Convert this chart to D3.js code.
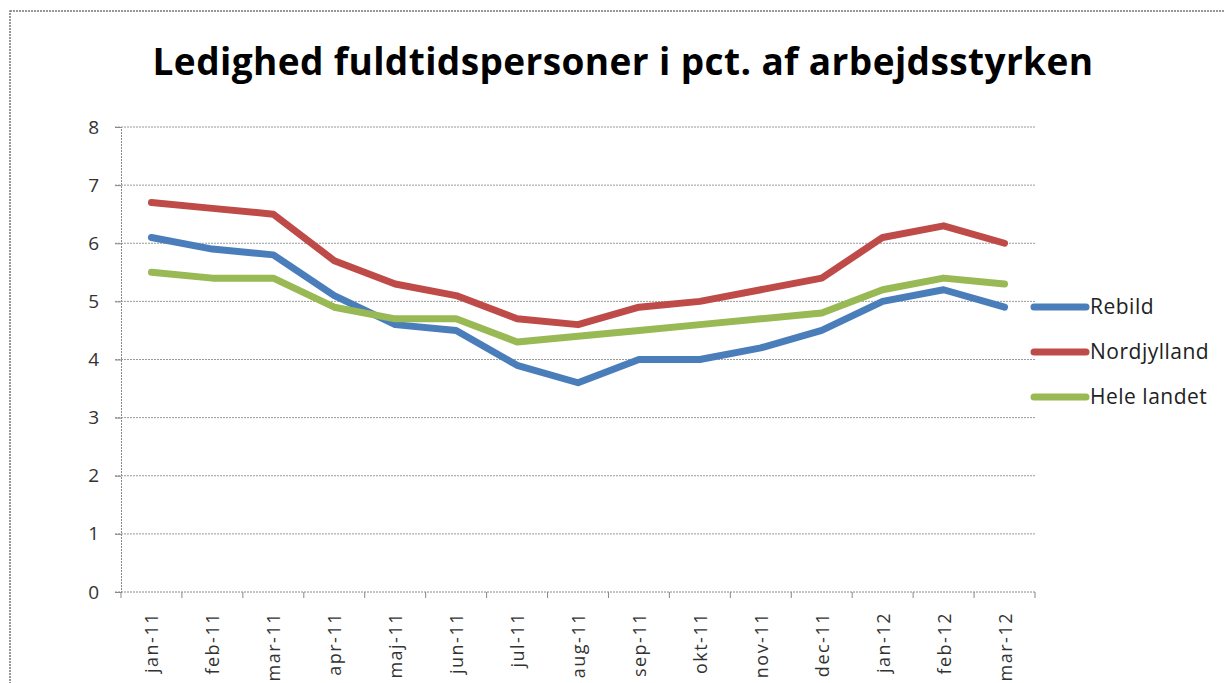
<!DOCTYPE html>
<html>
<head>
<meta charset="utf-8">
<script src="https://cdn.jsdelivr.net/npm/d3@7"></script>
<style>
  body { margin: 0; background: #fff; }
  svg text { font-family: "Open Sans", "Liberation Sans", sans-serif; }
</style>
</head>
<body>
<svg width="1225" height="683"></svg>
<script>
var months = ["jan-11", "feb-11", "mar-11", "apr-11", "maj-11", "jun-11", "jul-11", "aug-11",
              "sep-11", "okt-11", "nov-11", "dec-11", "jan-12", "feb-12", "mar-12"];
var rebild = [6.1, 5.9, 5.8, 5.1, 4.6, 4.5, 3.9, 3.6, 4.0, 4.0, 4.2, 4.5, 5.0, 5.2, 4.9];
var nordjylland = [6.7, 6.6, 6.5, 5.7, 5.3, 5.1, 4.7, 4.6, 4.9, 5.0, 5.2, 5.4, 6.1, 6.3, 6.0];
var heleLandet = [5.5, 5.4, 5.4, 4.9, 4.7, 4.7, 4.3, 4.4, 4.5, 4.6, 4.7, 4.8, 5.2, 5.4, 5.3];
var seriesNames = ["Rebild", "Nordjylland", "Hele landet"];
var yTicks = [0, 1, 2, 3, 4, 5, 6, 7, 8];

var colors = ["#4a7ebb", "#be4b48", "#98b954"];

// plot area
var plotLeft = 121, plotRight = 1035, plotTop = 127, plotBottom = 592;

var svg = d3.select("svg");

// cornice tratteggiata esterna
svg.append("rect")
   .attr("x", 10).attr("y", 11)
   .attr("width", 1240).attr("height", 700)
   .attr("fill", "none")
   .attr("stroke", "#777")
   .attr("stroke-width", 1.5)
   .attr("stroke-dasharray", "2,1");

svg.append("text")
   .attr("x", 623)
   .attr("y", 75)
   .attr("text-anchor", "middle")
   .attr("font-size", 37)
   .attr("font-weight", "bold")
   .attr("letter-spacing", 0.4)
   .attr("fill", "#000")
   .text("Ledighed fuldtidspersoner i pct. af arbejdsstyrken");

var x = d3.scaleBand().domain(months).range([plotLeft, plotRight]);
var y = d3.scaleLinear().domain([0, 8]).range([plotBottom, plotTop]);

// griglia
svg.append("g")
   .selectAll("line")
   .data(yTicks.filter(function(d){ return d > 0; }))
   .enter().append("line")
   .attr("x1", plotLeft - 6).attr("x2", plotRight)
   .attr("y1", function(d){ return y(d); })
   .attr("y2", function(d){ return y(d); })
   .attr("stroke", "#999")
   .attr("stroke-width", 1)
   .attr("stroke-dasharray", "2,1");

// asse y
var yAxis = svg.append("g")
   .attr("transform", "translate(" + plotLeft + ",0)")
   .call(d3.axisLeft(y).tickValues(yTicks).tickSize(6).tickPadding(16));
yAxis.select(".domain").attr("stroke", "#888").attr("stroke-dasharray", "2,1");
yAxis.selectAll(".tick line").attr("stroke", "#888");
yAxis.selectAll("text").attr("font-size", 19).attr("fill", "#333")
     .style("font-family", "'Open Sans', sans-serif");

// asse x: tacche ai confini delle categorie
var xAxis = svg.append("g")
   .attr("transform", "translate(0," + plotBottom + ")");
xAxis.append("line")
   .attr("x1", plotLeft - 6).attr("x2", plotRight)
   .attr("stroke", "#888").attr("stroke-dasharray", "2,1");
xAxis.selectAll(".xt")
   .data(months.concat(["end"]))
   .enter().append("line")
   .attr("class", "xt")
   .attr("x1", function(d, i){ return plotLeft + i * x.bandwidth(); })
   .attr("x2", function(d, i){ return plotLeft + i * x.bandwidth(); })
   .attr("y1", 0).attr("y2", 6)
   .attr("stroke", "#888");
xAxis.selectAll(".xl")
   .data(months)
   .enter().append("text")
   .attr("class", "xl")
   .attr("transform", function(d){
       return "translate(" + (x(d) + x.bandwidth() / 2 + 7) + ",20) rotate(-90)";
   })
   .attr("text-anchor", "end")
   .attr("font-size", 18)
   .attr("letter-spacing", 1.5)
   .attr("fill", "#333")
   .text(function(d){ return d; });

// linee
var allSeries = [rebild, nordjylland, heleLandet];
var line = d3.line()
   .x(function(d, i){ return x(months[i]) + x.bandwidth() / 2; })
   .y(function(d){ return y(d); });

svg.append("g")
   .selectAll("path")
   .data(allSeries)
   .enter().append("path")
   .attr("d", line)
   .attr("fill", "none")
   .attr("stroke", function(d, i){ return colors[i]; })
   .attr("stroke-width", 7)
   .attr("stroke-linejoin", "round")
   .attr("stroke-linecap", "round");

// legenda
var legend = svg.append("g")
   .selectAll("g")
   .data(seriesNames)
   .enter().append("g")
   .attr("transform", function(d, i){ return "translate(1034," + (307 + i * 45) + ")"; });
legend.append("line")
   .attr("x1", 0).attr("x2", 52)
   .attr("stroke", function(d, i){ return colors[i]; })
   .attr("stroke-width", 7)
   .attr("stroke-linecap", "round");
legend.append("text")
   .attr("x", 56)
   .attr("y", 7)
   .attr("font-size", 21)
   .attr("letter-spacing", 0.5)
   .attr("fill", "#222")
   .text(function(d){ return d; });
</script>
</body>
</html>
